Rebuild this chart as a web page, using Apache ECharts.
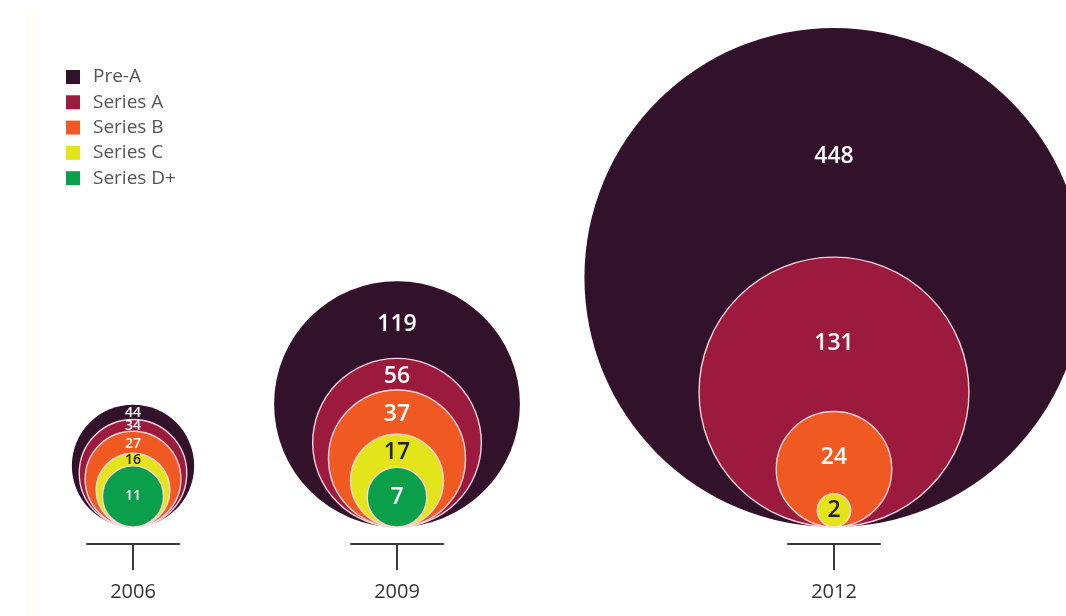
<!DOCTYPE html>
<html>
<head>
<meta charset="utf-8">
<style>
  html, body { margin: 0; padding: 0; background: #ffffff; }
  #chart { width: 1066px; height: 616px; }
</style>
<script src="https://cdn.jsdelivr.net/npm/echarts@6/dist/echarts.min.js"></script>
</head>
<body>
<div id="chart"></div>
<script>
// ---- data ----
const years = ['2006', '2009', '2012'];
const stages = ['Pre-A', 'Series A', 'Series B', 'Series C', 'Series D+'];
const preA = [44, 119, 448];
const seriesA = [34, 56, 131];
const seriesB = [27, 37, 24];
const seriesC = [16, 17, 2];
const seriesD = [11, 7, null];

// ---- presentation ----
const stageValues = [preA, seriesA, seriesB, seriesC, seriesD];
const stageColors = ['#31122a', '#9c1a3d', '#f05a22', '#e4e41a', '#0b9f4c'];
const labelColors = ['#ffffff', '#ffffff', '#ffffff', '#222222', '#ffffff'];
const groupCenters = [133, 397, 834];     // px centre of each year group
const sqrtAxisMax = [55, 45, 43];          // radius scale per group (sqrt units)
const FONT = '"Open Sans", "Noto Sans", sans-serif';

const chart = echarts.init(document.getElementById('chart'), null, { renderer: 'canvas' });

const grids = [], xAxes = [], yAxes = [], series = [];
years.forEach(function (y, i) {
  grids.push({ left: groupCenters[i] - 46, width: 92, top: 20, bottom: 89, containLabel: false });
  xAxes.push({
    gridIndex: i, type: 'category', data: [y], boundaryGap: true, offset: 17,
    axisLine: { show: true, onZero: false, lineStyle: { color: '#3a3a3a', width: 2 } },
    axisTick: { show: true, alignWithLabel: true, length: 26, lineStyle: { color: '#3a3a3a', width: 2 } },
    axisLabel: { margin: 38, color: '#333333', fontSize: 20, fontFamily: FONT },
    splitLine: { show: false }
  });
  yAxes.push({ gridIndex: i, type: 'value', min: 0, max: sqrtAxisMax[i], show: false });
});

stages.forEach(function (stage, s) {
  years.forEach(function (y, i) {
    const v = stageValues[s][i];
    series.push({
      name: stage,
      type: 'custom',
      xAxisIndex: i,
      yAxisIndex: i,
      itemStyle: { color: stageColors[s] },
      data: v == null ? [] : [[0, v]],
      renderItem: function (params, api) {
        const val = api.value(1);
        const base = api.coord([0, 0]);
        const cx = base[0], by = base[1];
        const r = api.size([0, Math.sqrt(val)])[1];
        const r0 = api.size([0, Math.sqrt(preA[i])])[1];
        const fs = Math.max(14, Math.min(23, r0 / 5.3));
        const next = stageValues[s + 1] ? stageValues[s + 1][i] : null;
        let ly;
        if (next != null) {
          const rn = api.size([0, Math.sqrt(next)])[1];
          const top = by - 2 * r, topN = by - 2 * rn;
          ly = top + 0.56 * (topN - top);
        } else {
          ly = by - r;
        }
        return {
          type: 'group',
          children: [
            {
              type: 'circle',
              shape: { cx: cx, cy: by - r, r: r },
              style: {
                fill: stageColors[s],
                stroke: s === 0 ? null : 'rgba(255,220,232,0.95)',
                lineWidth: s === 0 ? 0 : 1.4
              }
            },
            {
              type: 'text',
              x: cx, y: ly,
              style: {
                text: String(val),
                fill: labelColors[s],
                fontSize: fs,
                fontFamily: FONT,
                fontWeight: 600,
                align: 'center',
                verticalAlign: 'middle'
              }
            }
          ]
        };
      }
    });
  });
});

const option = {
  backgroundColor: '#ffffff',
  animation: false,
  graphic: [
    { type: 'rect', left: 26, top: 10, shape: { width: 12, height: 606 }, style: { fill: '#fffef6' }, z: -10 }
  ],
  legend: {
    data: stages,
    orient: 'vertical',
    left: 61,
    top: 62,
    icon: 'rect',
    itemWidth: 14,
    itemHeight: 14,
    itemGap: 5.3,
    selectedMode: false,
    textStyle: { color: '#555555', fontSize: 19, lineHeight: 20, fontFamily: FONT, padding: [0, 0, 0, 8] }
  },
  grid: grids,
  xAxis: xAxes,
  yAxis: yAxes,
  series: series
};

chart.setOption(option);
</script>
</body>
</html>
